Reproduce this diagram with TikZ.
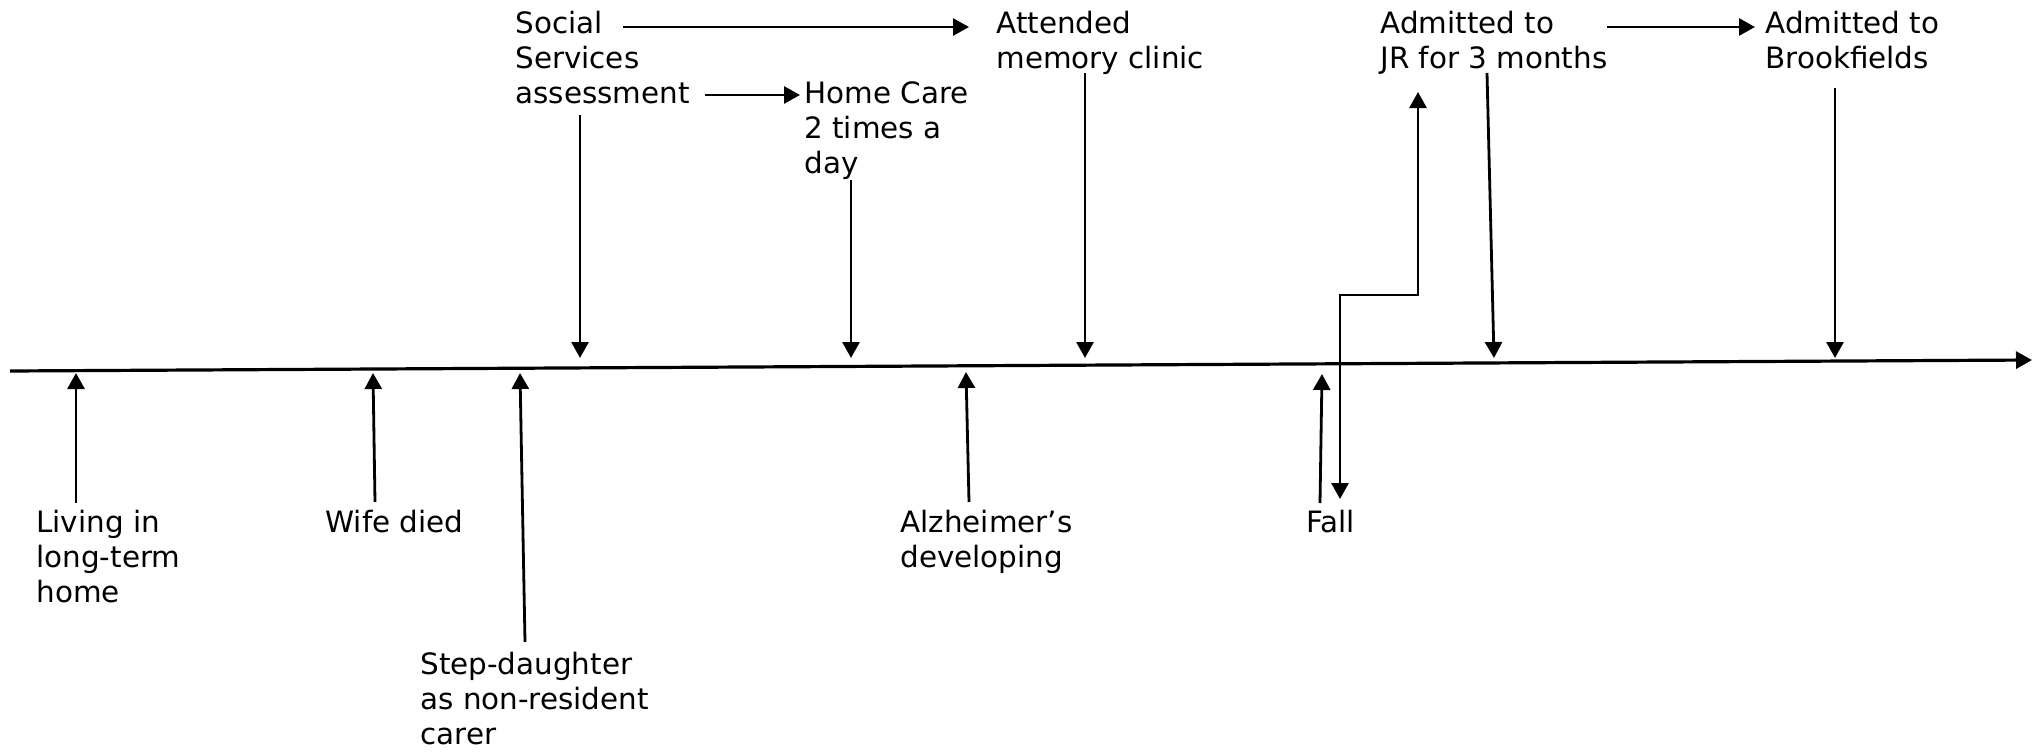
\documentclass[tikz,border=0pt]{standalone}
\usepackage{fontspec}
\setmainfont{DejaVu Sans}
\usetikzlibrary{arrows.meta}
\tikzset{
  event/.style={anchor=base west, align=left, inner sep=0pt, font=\fontsize{14.7}{17.5}\selectfont},
  link/.style={line width=1.4pt, >={Triangle[length=8pt,width=8.5pt]}, ->},
}
\begin{document}
\begin{tikzpicture}[x=0.5pt, y=0.5pt]
  \useasboundingbox (0,0) rectangle (2040,752);

  \coordinate (start) at (10,381);
  \coordinate (end) at (2032,392);
  \draw[link, line width=1.6pt] (start) -- (end);

  \node[event] (living) at (36,150) {Living in\\long-term\\home};
  \node[event] (wife) at (325,220) {Wife died};
  \node[event] (step) at (420,8) {Step-daughter\\as non-resident\\carer};
  \node[event] (alz) at (900,185) {Alzheimer’s\\developing};
  \node[event] (fall) at (1306,220) {Fall};

  \node[event] (social) at (515,649) {Social\\Services\\assessment};
  \node[event] (home) at (804,579) {Home Care\\2 times a\\day};
  \node[event] (attended) at (996,684) {Attended\\memory clinic};
  \node[event] (jr) at (1380,684) {Admitted to\\JR for 3 months};
  \node[event] (brook) at (1765,684) {Admitted to\\Brookfields};

  \coordinate (t-living) at (76,379);
  \coordinate (t-wife) at (373,379);
  \coordinate (t-step) at (520,379);
  \coordinate (t-alz) at (966,380);
  \coordinate (t-fall) at (1322,378);
  \coordinate (t-social) at (580,394);
  \coordinate (t-home) at (851,394);
  \coordinate (t-attended) at (1085,394);
  \coordinate (t-jr) at (1494,394);
  \coordinate (t-brook) at (1835,394);

  \draw[link] ([shift={(40,99)}]living.base west) -- (t-living);
  \draw[link] ([shift={(50,30)}]wife.base west) -- (t-wife);
  \draw[link] ([shift={(105,102)}]step.base west) -- (t-step);
  \draw[link] ([shift={(69,65)}]alz.base west) -- (t-alz);
  \draw[link] ([shift={(14,29)}]fall.base west) -- (t-fall);

  \draw[link] ([shift={(65,-12)}]social.base west) -- (t-social);
  \draw[link] ([shift={(47,-7)}]home.base west) -- (t-home);
  \draw[link] ([shift={(89,-5)}]attended.base west) -- (t-attended);
  \draw[link] ([shift={(107,-5)}]jr.base west) -- (t-jr);
  \draw[link] ([shift={(70,-20)}]brook.base west) -- (t-brook);

  \draw[link] ([shift={(108,76)}]social.base west) -- ([shift={(-27,41)}]attended.base west);
  \draw[link] ([shift={(190,8)}]social.base west) -- ([shift={(-4,78)}]home.base west);
  \draw[link] ([shift={(227,41)}]jr.base west) -- ([shift={(-10,41)}]brook.base west);

  \draw[link, <->] ([shift={(34,33)}]fall.base west) -- ++(0,204) -| ([shift={(38,-24)}]jr.base west);
\end{tikzpicture}
\end{document}
